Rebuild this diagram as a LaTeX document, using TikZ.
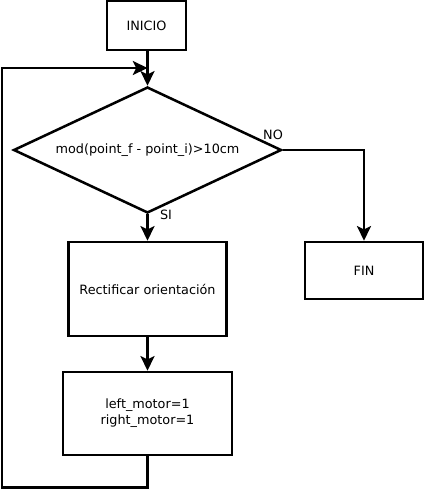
\documentclass[tikz,border=0pt]{standalone}
\usepackage{fontspec}
\setmainfont{DejaVu Sans}
\usetikzlibrary{shapes.geometric,arrows.meta}

\tikzset{
  caja/.style={draw, line width=1.9pt, fill=white, inner sep=0pt},
  decision/.style={draw, diamond, line width=1.9pt, inner sep=0pt, aspect=2.13},
  flecha/.style={line width=1.9pt, -{Stealth[length=11pt,width=10.5pt,inset=2.5pt]}},
  etiqueta/.style={font=\fontsize{9.6}{11}\selectfont}
}

\begin{document}
\begin{tikzpicture}[x=0.75pt,y=-0.75pt, font=\fontsize{9.6}{12}\selectfont]
  \useasboundingbox (0,0) rectangle (425,490);
  % bloques
  \node[caja, minimum width=59.25pt, minimum height=36.75pt] (inicio) at (146.5,25.5) {INICIO};
  \node[decision, minimum width=201pt, minimum height=94.5pt] (cond) at (147.5,150) {mod(point\_f - point\_i)>10cm};
  \node[caja, minimum width=118.5pt, minimum height=70.5pt] (rect) at (147.5,289) {Rectificar orientación};
  \node[caja, minimum width=126.75pt, minimum height=62.25pt, align=center] (motor) at (147.5,413.5) {left\_motor=1\\right\_motor=1};
  \node[caja, minimum width=88.5pt, minimum height=42.75pt] (fin) at (364,270.5) {FIN};
  % puntos del lazo
  \coordinate (abajo) at (147.5,487.5);
  \coordinate (izqabajo) at (2,487.5);
  \coordinate (izqarriba) at (2,68);
  \coordinate (entrada) at (147.5,68);
  \coordinate (codo) at (364,150);
  % conexiones
  \draw[flecha] (inicio.south -| cond.north) -- (cond.north);
  \draw[flecha] (cond.south) -- (rect.north);
  \draw[flecha] (rect.south) -- (motor.north);
  \draw[flecha] (cond.east) -- (codo) -- (fin.north);
  \draw[flecha] (motor.south) -- (abajo) -- (izqabajo) -- (izqarriba) -- (entrada);
  % etiquetas
  \node[etiqueta] (no) at (273,135) {NO};
  \node[etiqueta] (si) at (166,215) {SI};
\end{tikzpicture}
\end{document}
